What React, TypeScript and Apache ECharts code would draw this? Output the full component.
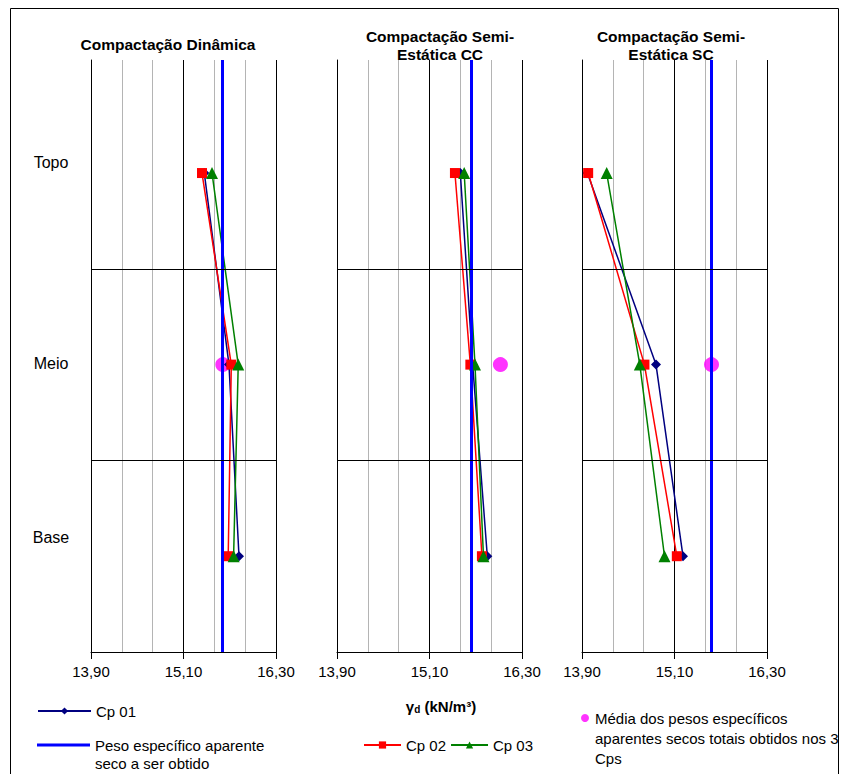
import React, { useEffect, useRef } from 'react';
import * as echarts from 'echarts';

// ---- data ----
const categories = ['Topo', 'Meio', 'Base'];
const levels = [2.5, 1.5, 0.5]; // vertical position of Topo / Meio / Base
const panelTitles = [
  'Compactação Dinâmica',
  'Compactação Semi-\nEstática CC',
  'Compactação Semi-\nEstática SC',
];
const xTicks = [13.9, 15.1, 16.3];
// per panel: [Topo, Meio, Base]
const cp01Dinamica = [15.37, 15.69, 15.82];
const cp02Dinamica = [15.34, 15.72, 15.68];
const cp03Dinamica = [15.47, 15.81, 15.75];
const cp01CC = [15.5, 15.66, 15.85];
const cp02CC = [15.43, 15.63, 15.78];
const cp03CC = [15.55, 15.69, 15.8];
const cp01SC = [13.97, 14.86, 15.21];
const cp02SC = [13.98, 14.71, 15.13];
const cp03SC = [14.22, 14.65, 14.97];
const targetDensity = [15.6, 15.64, 15.58];
const meanDensity = [15.61, 16.02, 15.58];
const layerBoundaries = [1, 2];

const NAME_PESO = 'Peso específico aparente seco a ser obtido';
const NAME_MEDIA = 'Média dos pesos específicos aparentes secos totais obtidos nos 3 Cps';

export default function App() {
  const ref = useRef<HTMLDivElement>(null);
  useEffect(() => {
    document.body.style.margin = '0';
    const chart = echarts.init(ref.current!, null, { renderer: 'svg' });
    const font = '"Liberation Sans", Arial, sans-serif';
    const gridLefts = [91, 337, 582];
    const titleX = [168, 440, 671];
    const titleY = [44, 45, 45];
    const cp01 = [cp01Dinamica, cp01CC, cp01SC];
    const cp02 = [cp02Dinamica, cp02CC, cp02SC];
    const cp03 = [cp03Dinamica, cp03CC, cp03SC];
    const yMax = 3.09;

    const grids = gridLefts.map((l) => ({ left: l, top: 60, width: 185, height: 592 }));
    const xAxes = gridLefts.map((_, i) => ({
      type: 'value',
      gridIndex: i,
      min: xTicks[0],
      max: xTicks[2],
      interval: xTicks[1] - xTicks[0],
      axisLine: { show: true, onZero: false, lineStyle: { color: '#000', width: 1 } },
      axisTick: { show: true, length: 7, lineStyle: { color: '#000', width: 1 } },
      axisLabel: {
        fontFamily: font,
        fontSize: 15,
        color: '#000',
        margin: 12,
        showMinLabel: true,
        showMaxLabel: true,
        formatter: (v: number) => v.toFixed(2).replace('.', ','),
      },
      splitLine: { show: true, lineStyle: { color: ['#000', '#000', '#808080'], width: 1 } },
      minorTick: { show: false, splitNumber: 3 },
      minorSplitLine: { show: true, lineStyle: { color: '#b4b4b4', width: 1 } },
    }));
    const yAxes = gridLefts.map((_, i) => ({
      type: 'value',
      gridIndex: i,
      min: 0,
      max: yMax,
      axisLine: { show: true, onZero: false, lineStyle: { color: '#000', width: 1 } },
      axisTick: { show: false },
      axisLabel: { show: false },
      splitLine: { show: false },
    }));

    const series: any[] = [];
    gridLefts.forEach((_, i) => {
      series.push({
        type: 'line',
        name: NAME_PESO,
        xAxisIndex: i,
        yAxisIndex: i,
        data: [],
        symbol: 'none',
        lineStyle: { color: '#0000ff', width: 3 },
        itemStyle: { color: '#0000ff' },
        markLine: {
          silent: true,
          symbol: 'none',
          label: { show: false },
          data: [
            { xAxis: targetDensity[i], lineStyle: { color: '#0000ff', width: 3, type: 'solid' } },
            ...layerBoundaries.map((b) => ({
              yAxis: b,
              lineStyle: { color: '#000', width: 1, type: 'solid' },
            })),
          ],
        },
      });
      series.push({
        type: 'scatter',
        name: NAME_MEDIA,
        xAxisIndex: i,
        yAxisIndex: i,
        data: [[meanDensity[i], levels[1]]],
        symbol: 'circle',
        symbolSize: 15,
        itemStyle: { color: '#ff00ff' },
      });
      const mk = (name: string, vals: number[], color: string, symbol: string, size: number) => ({
        type: 'line',
        name,
        xAxisIndex: i,
        yAxisIndex: i,
        data: levels.map((y, k) => [vals[k], y]),
        symbol,
        symbolSize: size,
        showAllSymbol: true,
        lineStyle: { color, width: 1.5 },
        itemStyle: { color },
      });
      series.push(mk('Cp 01', cp01[i], '#000080', 'diamond', 10));
      series.push(mk('Cp 02', cp02[i], '#ff0000', 'rect', 10));
      series.push(mk('Cp 03', cp03[i], '#008000', 'triangle', 12));
    });

    const legendText = { fontFamily: font, fontSize: 15, color: '#000' };
    const graphics: any[] = [
      {
        type: 'rect',
        silent: true,
        shape: { x: 10.5, y: 8.5, width: 828, height: 800 },
        style: { fill: 'none', stroke: '#000', lineWidth: 1 },
      },
      ...panelTitles.map((t, i) => ({
        type: 'text',
        x: titleX[i],
        y: titleY[i],
        style: {
          text: t,
          fontFamily: font,
          fontSize: 15.5,
          fontWeight: 'bold',
          lineHeight: 18,
          align: 'center',
          verticalAlign: 'middle',
          fill: '#000',
        },
      })),
      ...categories.map((c, k) => ({
        type: 'text',
        x: 51,
        y: [162, 363, 537][k],
        style: {
          text: c,
          fontFamily: font,
          fontSize: 16,
          align: 'center',
          verticalAlign: 'middle',
          fill: '#000',
        },
      })),
      {
        type: 'text',
        x: 441,
        y: 706,
        style: {
          text: '{g|γ}{s|d}{g| (kN/m³)}',
          align: 'center',
          verticalAlign: 'middle',
          fill: '#000',
          rich: {
            g: { fontFamily: font, fontSize: 15, fontWeight: 'bold' },
            s: { fontFamily: font, fontSize: 10, fontWeight: 'bold', padding: [6, 0, 0, 0] },
          },
        },
      },
    ];

    chart.setOption({
      animation: false,
      backgroundColor: '#fff',
      grid: grids,
      xAxis: xAxes,
      yAxis: yAxes,
      series,
      legend: [
        {
          data: ['Cp 01'],
          left: 37,
          top: 703,
          padding: 0,
          itemWidth: 53,
          itemHeight: 9,
          selectedMode: false,
          textStyle: { ...legendText, lineHeight: 16 },
        },
        {
          data: [{ name: NAME_PESO, icon: 'rect' }],
          left: 37,
          top: 718,
          padding: 0,
          itemWidth: 53,
          itemHeight: 3,
          selectedMode: false,
          formatter: () => '\nPeso específico aparente\nseco a ser obtido',
          textStyle: { ...legendText, lineHeight: 18 },
        },
        {
          data: ['Cp 02', 'Cp 03'],
          left: 363,
          top: 737,
          padding: 0,
          itemWidth: 37,
          itemHeight: 9,
          itemGap: 4,
          selectedMode: false,
          textStyle: { ...legendText, lineHeight: 16 },
        },
        {
          data: [NAME_MEDIA],
          left: 581,
          top: 668,
          padding: 0,
          itemWidth: 10,
          itemHeight: 8,
          selectedMode: false,
          formatter: () => '\n\nMédia dos pesos específicos\naparentes secos totais obtidos nos 3\nCps',
          textStyle: { ...legendText, lineHeight: 20 },
        },
      ],
      graphic: graphics,
    });
    return () => chart.dispose();
  }, []);
  return <div ref={ref} style={{ width: 841, height: 774 }} />;
}
